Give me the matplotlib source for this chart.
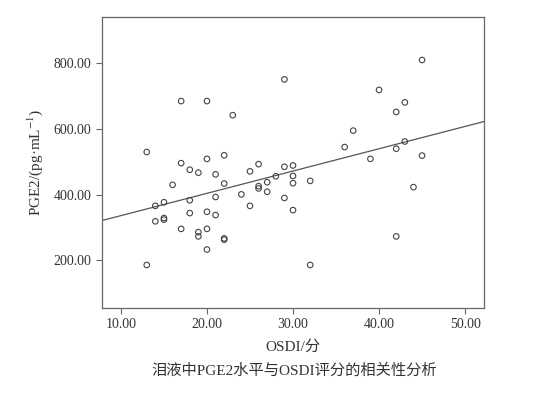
import numpy as np
import matplotlib
matplotlib.use("Agg")
import matplotlib.pyplot as plt

plt.rcParams['font.family'] = ['Liberation Serif', 'Noto Sans CJK SC']
plt.rcParams['mathtext.fontset'] = 'stix'

# OSDI score vs tear PGE2 (pg/mL)
osdi = [13, 13, 14, 14, 15, 15, 15, 16, 17, 17, 17, 18, 18, 18, 19, 19, 19,
        20, 20, 20, 20, 20, 21, 21, 21, 22, 22, 22, 22, 23, 24, 25, 25,
        26, 26, 26, 27, 27, 28, 29, 29, 29, 30, 30, 30, 30, 32, 32,
        36, 37, 39, 40, 42, 42, 42, 43, 43, 44, 45, 45]
pge2 = [186, 530, 366, 319, 377, 329, 324, 430, 685, 496, 296, 476, 383, 344, 467, 286, 273,
        685, 509, 348, 296, 233, 462, 393, 338, 520, 434, 267, 263, 642, 401, 471, 366,
        493, 426, 419, 438, 409, 456, 751, 485, 390, 489, 457, 435, 353, 442, 186,
        545, 595, 509, 719, 652, 540, 273, 681, 562, 423, 810, 519]

x_ticks = [10, 20, 30, 40, 50]
y_ticks = [200, 400, 600, 800]

grey = '#333333'
frame = '#666666'

fig = plt.figure(figsize=(5.49, 3.98), dpi=100)
ax = fig.add_axes([0.1858, 0.2261, 0.6958, 0.7312])

ax.scatter(osdi, pge2, s=16, facecolors='none', edgecolors='#444444', linewidths=0.8, zorder=3)

# linear fit line across the whole axis
slope, intercept = np.polyfit(osdi, pge2, 1)
xl = np.array([7.8, 52.2])
ax.plot(xl, intercept + slope * xl, color='#555555', lw=0.9)

ax.set_xlim(7.8, 52.2)
ax.set_ylim(55, 941)
ax.set_xticks(x_ticks)
ax.set_yticks(y_ticks)
ax.set_xticklabels(['%.2f' % v for v in x_ticks])
ax.set_yticklabels(['%.2f' % v for v in y_ticks])
ax.tick_params(direction='out', length=4, width=0.8, color=frame, labelcolor=grey, labelsize=10)
for sp in ax.spines.values():
    sp.set_color(frame)
    sp.set_linewidth(0.9)

ax.set_xlabel('OSDI/分', fontsize=11, color=grey, labelpad=6)
ax.set_ylabel('PGE2/(pg·mL$^{-1}$)', fontsize=11, color=grey, labelpad=6)

fig.text(0.535, 0.068, '泪液中PGE2水平与OSDI评分的相关性分析', ha='center', va='center',
         fontsize=11, color=grey)

print(slope, intercept)
fig.savefig('out.png', dpi=100)
